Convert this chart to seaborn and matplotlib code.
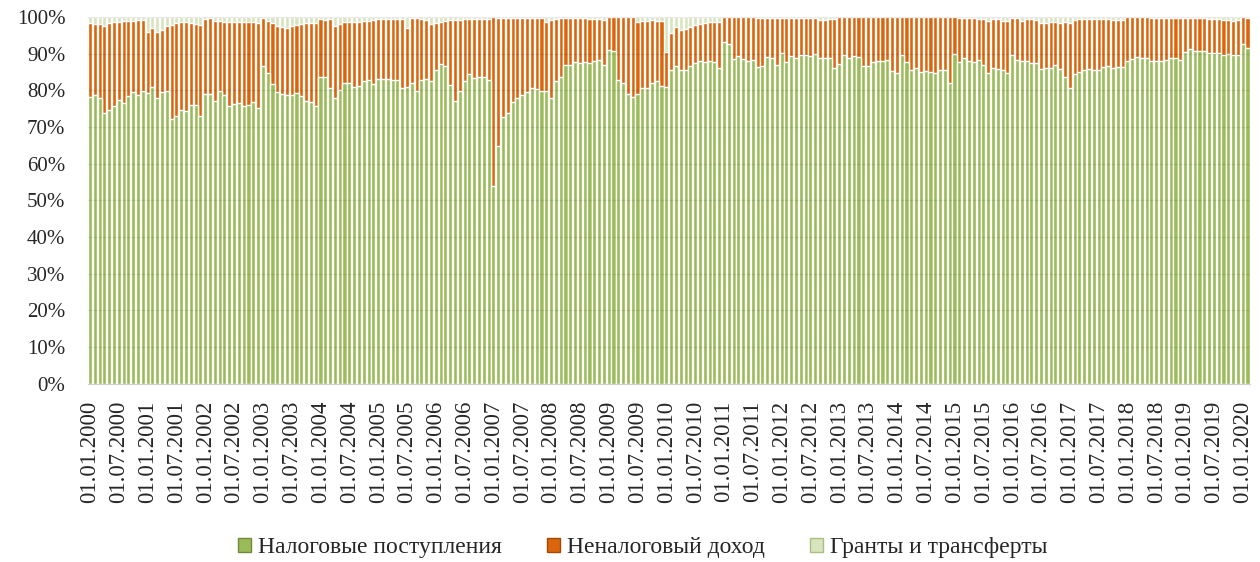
import numpy as np
import pandas as pd
import matplotlib
matplotlib.use('Agg')
import matplotlib.pyplot as plt
import seaborn as sns
from matplotlib.patches import Patch
from matplotlib.ticker import PercentFormatter

# Monthly shares, 01.2000 .. 02.2020 (one row per year)
tax = [
    78.2, 78.7, 77.8, 73.8, 74.7, 75.6, 77.3, 76.6, 78.3, 79.4, 78.7, 79.8,
    79.2, 80.9, 78.0, 79.4, 79.8, 72.3, 73.0, 74.6, 74.4, 76.0, 76.0, 72.9,
    79.0, 79.0, 77.1, 79.7, 78.7, 75.8, 76.2, 76.5, 75.6, 75.9, 76.8, 75.2,
    86.6, 84.6, 81.7, 79.6, 79.1, 78.6, 78.8, 79.3, 78.3, 77.2, 76.9, 75.7,
    83.5, 83.5, 80.5, 77.8, 80.1, 82.1, 82.0, 81.0, 81.2, 82.4, 82.7, 81.7,
    83.1, 83.1, 83.1, 82.7, 82.8, 80.6, 81.0, 82.1, 79.7, 82.8, 83.1, 82.6,
    85.6, 87.1, 86.6, 81.3, 77.1, 79.8, 82.6, 84.4, 83.3, 83.7, 83.5, 82.8,
    53.8, 64.9, 72.6, 73.7, 76.7, 77.9, 78.7, 79.6, 80.7, 80.3, 79.8, 79.8,
    78.0, 82.4, 83.7, 86.9, 86.9, 87.7, 87.3, 87.7, 87.4, 88.1, 88.2, 87.0,
    91.0, 90.6, 82.9, 82.1, 79.0, 78.1, 79.1, 80.5, 80.5, 82.1, 82.4, 81.2,
    81.0, 85.6, 86.5, 85.4, 85.4, 86.6, 87.4, 87.9, 87.7, 88.0, 87.8, 86.1,
    93.2, 92.5, 88.5, 89.4, 88.5, 88.0, 88.2, 86.4, 86.5, 89.1, 88.9, 86.8,
    90.2, 87.8, 89.4, 88.9, 89.6, 89.5, 89.4, 89.8, 88.7, 88.9, 88.9, 86.1,
    87.2, 89.6, 88.9, 89.4, 89.0, 86.6, 86.5, 87.7, 88.1, 88.1, 88.3, 85.3,
    84.8, 89.6, 87.8, 85.6, 86.0, 85.0, 85.2, 85.1, 84.8, 85.4, 85.6, 82.0,
    89.8, 87.6, 88.7, 88.1, 87.7, 88.3, 86.9, 84.8, 86.1, 85.9, 85.6, 84.7,
    89.5, 88.2, 88.1, 88.0, 87.5, 87.3, 85.9, 86.1, 86.2, 87.0, 85.9, 83.6,
    80.7, 84.4, 85.1, 85.4, 85.7, 85.4, 85.6, 86.4, 86.7, 86.2, 86.3, 86.3,
    88.1, 88.6, 89.1, 88.9, 88.9, 88.1, 88.1, 88.1, 88.3, 88.8, 88.9, 88.3,
    90.4, 91.2, 90.7, 90.8, 90.6, 90.2, 90.2, 90.2, 89.7, 89.9, 89.5, 89.6,
    92.6, 91.4,
]

nontax = [
    20.2, 19.3, 20.2, 23.7, 23.5, 22.9, 21.3, 22.3, 20.6, 19.5, 20.4, 19.3,
    16.7, 16.0, 17.9, 17.0, 17.6, 25.6, 25.2, 23.9, 24.1, 22.2, 22.0, 25.0,
    20.4, 20.6, 21.8, 19.2, 20.0, 22.8, 22.3, 22.0, 23.0, 22.7, 21.8, 23.2,
    13.1, 14.2, 16.5, 17.9, 18.2, 18.4, 18.6, 18.5, 19.7, 21.2, 21.3, 22.7,
    15.8, 15.7, 18.9, 19.7, 17.9, 16.4, 16.6, 17.7, 17.5, 16.4, 16.3, 17.5,
    16.3, 16.4, 16.3, 16.6, 16.7, 18.8, 15.9, 17.5, 19.9, 16.6, 16.0, 15.4,
    12.8, 11.6, 12.3, 17.8, 22.1, 19.4, 16.8, 15.1, 16.1, 15.7, 15.9, 16.6,
    46.1, 34.9, 27.2, 26.1, 23.1, 21.9, 21.1, 20.2, 19.1, 19.5, 20.0, 18.8,
    21.1, 17.0, 15.9, 12.9, 12.9, 12.1, 12.5, 12.1, 12.0, 11.4, 11.3, 12.1,
    9.0, 9.4, 17.1, 17.9, 21.0, 21.9, 19.4, 18.3, 18.4, 17.0, 16.4, 17.7,
    9.5, 9.9, 10.8, 11.1, 11.3, 10.7, 10.4, 10.2, 10.6, 10.5, 10.9, 12.5,
    6.8, 7.5, 11.5, 10.6, 11.5, 12.0, 11.8, 13.4, 13.3, 10.7, 10.9, 13.0,
    9.5, 12.0, 10.4, 10.9, 10.2, 10.3, 10.4, 10.0, 10.5, 10.3, 10.5, 13.3,
    12.8, 10.4, 11.1, 10.6, 11.0, 13.4, 13.5, 12.3, 11.9, 11.9, 11.7, 14.7,
    15.2, 10.4, 12.2, 14.4, 14.0, 15.0, 14.8, 14.9, 15.2, 14.6, 14.4, 18.0,
    10.2, 12.2, 10.9, 11.5, 11.9, 11.2, 12.4, 14.1, 13.4, 13.6, 13.4, 14.2,
    10.3, 11.4, 10.9, 11.3, 11.8, 11.9, 12.4, 12.2, 12.4, 11.7, 12.5, 14.9,
    17.7, 14.7, 14.3, 14.1, 13.8, 14.1, 13.9, 13.1, 12.8, 12.9, 12.8, 12.9,
    11.9, 11.4, 10.9, 11.1, 11.1, 11.7, 11.7, 11.7, 11.5, 11.0, 10.9, 11.3,
    9.4, 8.6, 9.1, 9.0, 9.0, 9.3, 9.1, 9.1, 9.5, 9.3, 9.4, 9.6,
    7.4, 8.4,
]

grants = [
    1.6, 2.0, 2.0, 2.5, 1.8, 1.5, 1.4, 1.1, 1.1, 1.1, 0.9, 0.9,
    4.1, 3.1, 4.1, 3.6, 2.6, 2.1, 1.8, 1.5, 1.5, 1.8, 2.0, 2.1,
    0.6, 0.4, 1.1, 1.1, 1.3, 1.4, 1.5, 1.5, 1.4, 1.4, 1.4, 1.6,
    0.3, 1.2, 1.8, 2.5, 2.7, 3.0, 2.6, 2.2, 2.0, 1.6, 1.8, 1.6,
    0.7, 0.8, 0.6, 2.5, 2.0, 1.5, 1.4, 1.3, 1.3, 1.2, 1.0, 0.8,
    0.6, 0.5, 0.6, 0.7, 0.5, 0.6, 3.1, 0.4, 0.4, 0.6, 0.9, 2.0,
    1.6, 1.3, 1.1, 0.9, 0.8, 0.8, 0.6, 0.5, 0.6, 0.6, 0.6, 0.6,
    0.1, 0.2, 0.2, 0.2, 0.2, 0.2, 0.2, 0.2, 0.2, 0.2, 0.2, 1.4,
    0.9, 0.6, 0.4, 0.2, 0.2, 0.2, 0.2, 0.2, 0.6, 0.5, 0.5, 0.9,
    0.0, 0.0, 0.0, 0.0, 0.0, 0.0, 1.5, 1.2, 1.1, 0.9, 1.2, 1.1,
    9.5, 4.5, 2.7, 3.5, 3.3, 2.7, 2.2, 1.9, 1.7, 1.5, 1.3, 1.4,
    0.0, 0.0, 0.0, 0.0, 0.0, 0.0, 0.0, 0.2, 0.2, 0.2, 0.2, 0.2,
    0.3, 0.2, 0.2, 0.2, 0.2, 0.2, 0.2, 0.2, 0.8, 0.8, 0.6, 0.6,
    0.0, 0.0, 0.0, 0.0, 0.0, 0.0, 0.0, 0.0, 0.0, 0.0, 0.0, 0.0,
    0.0, 0.0, 0.0, 0.0, 0.0, 0.0, 0.0, 0.0, 0.0, 0.0, 0.0, 0.0,
    0.0, 0.2, 0.4, 0.4, 0.4, 0.5, 0.7, 1.1, 0.5, 0.5, 1.0, 1.1,
    0.2, 0.4, 1.0, 0.7, 0.7, 0.8, 1.7, 1.7, 1.4, 1.3, 1.6, 1.5,
    1.6, 0.9, 0.6, 0.5, 0.5, 0.5, 0.5, 0.5, 0.5, 0.9, 0.9, 0.8,
    0.0, 0.0, 0.0, 0.0, 0.0, 0.2, 0.2, 0.2, 0.2, 0.2, 0.2, 0.4,
    0.2, 0.2, 0.2, 0.2, 0.4, 0.5, 0.7, 0.7, 0.8, 0.8, 1.1, 0.8,
    0.0, 0.2,
]

series_names = ['Налоговые поступления', 'Неналоговый доход', 'Гранты и трансферты']

dates = pd.date_range('2000-01-01', periods=len(tax), freq='MS').strftime('%d.%m.%Y')

df = pd.DataFrame({'date': dates, 'tax': tax, 'nontax': nontax, 'grants': grants})
total = df[['tax', 'nontax', 'grants']].sum(axis=1)
# 100% stacked: cumulative tops of each layer
df['top_tax'] = df['tax'] / total * 100
df['top_nontax'] = (df['tax'] + df['nontax']) / total * 100
df['top_grants'] = (df['tax'] + df['nontax'] + df['grants']) / total * 100

sns.set_style('white')
plt.rcParams['font.family'] = ['Liberation Serif', 'DejaVu Serif']

green = '#9BBB59'
orange = '#DA650C'
light = '#D7E4BD'

fig, ax = plt.subplots(figsize=(12.6, 5.62), dpi=100)
fig.subplots_adjust(left=0.0695, right=0.992, top=0.970, bottom=0.317)

n = len(df)
# grey separators between categories (show through the bar gaps)
ax.vlines(np.arange(n + 1) - 0.5, 0, 100, color='#bdbdbd', lw=1.3, zorder=1)

for col, c in [('top_grants', light), ('top_nontax', orange), ('top_tax', green)]:
    sns.barplot(data=df, x='date', y=col, color=c, saturation=1, width=0.85,
                errorbar=None, ax=ax, zorder=2)

for y in range(10, 101, 10):
    ax.axhline(y, color='black', alpha=0.08, lw=1, zorder=3)

ax.set_xlim(-0.5, n - 0.5)
ax.set_ylim(0, 100)
ax.set_xlabel('')
ax.set_ylabel('')

ax.set_xticks(range(n))
ax.set_xticklabels([d if i % 6 == 0 else '' for i, d in enumerate(dates)],
                   rotation=90, fontsize=16.5)
ax.tick_params(axis='x', length=4, color='#bfbfbf', width=0.8, pad=8)

ax.set_yticks(range(0, 101, 10))
ax.yaxis.set_major_formatter(PercentFormatter(decimals=0))
ax.tick_params(axis='y', length=0, labelsize=15, pad=16)

for s in ['top', 'right', 'left']:
    ax.spines[s].set_visible(False)
ax.spines['bottom'].set_color('#d0d0d0')
ax.spines['bottom'].set_zorder(4)

handles = [
    Patch(facecolor=green, edgecolor='#6f8a3a', label=series_names[0]),
    Patch(facecolor=orange, edgecolor='#a04a08', label=series_names[1]),
    Patch(facecolor=light, edgecolor='#a9bf82', label=series_names[2]),
]
fig.legend(handles=handles, loc='center', bbox_to_anchor=(0.51, 0.025), ncol=3,
           frameon=False, fontsize=17, handlelength=0.55, handleheight=0.55,
           handletextpad=0.3, columnspacing=1.9)

plt.savefig('out.png', dpi=100)
